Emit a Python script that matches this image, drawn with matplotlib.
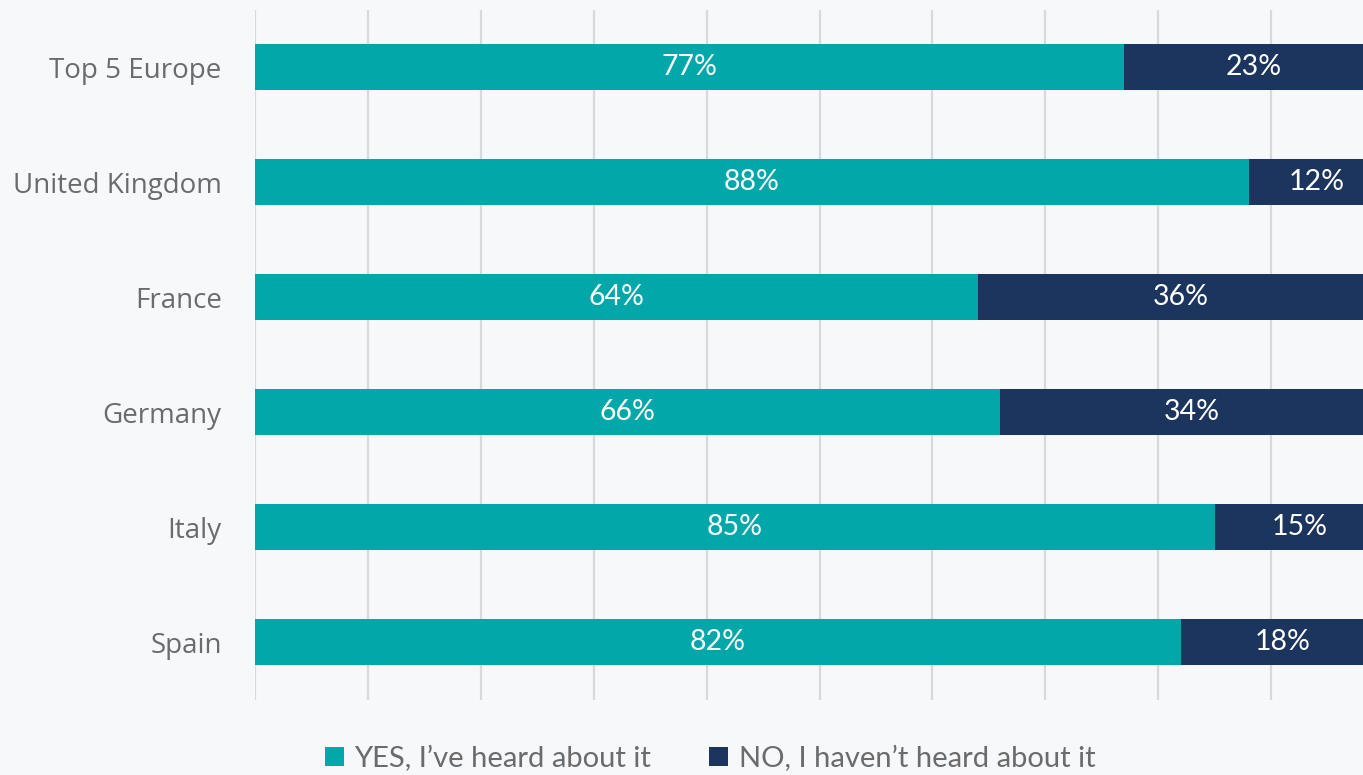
import matplotlib.pyplot as plt
from matplotlib.patches import Patch

# data
countries = ["Top 5 Europe", "United Kingdom", "France", "Germany", "Italy", "Spain"]
yes_pct = [77, 88, 64, 66, 85, 82]
no_pct = [23, 12, 36, 34, 15, 18]
series_names = ["YES, I\u2019ve heard about it", "NO, I haven\u2019t heard about it"]

TEAL = "#02A7AA"
NAVY = "#1C355E"
BG = "#F7F8FA"
GRID = "#D9D9D9"
TXT = "#6B6B6B"

fig = plt.figure(figsize=(13.63, 7.75), dpi=100, facecolor=BG)
# plot area runs past the right edge, as in the original
ax = fig.add_axes([0.1871, 0.0968, 0.8283, 0.8903], facecolor=BG)

y = list(range(len(countries)))
ax.barh(y, yes_pct, height=0.4, color=TEAL, zorder=3)
ax.barh(y, no_pct, left=yes_pct, height=0.4, color=NAVY, zorder=3)

for i in y:
    ax.text(yes_pct[i] / 2, i, f"{yes_pct[i]}%", ha="center", va="center",
            color="white", fontsize=20.5, family="Lato", zorder=4)
    ax.text(yes_pct[i] + no_pct[i] / 2, i, f"{no_pct[i]}%", ha="center", va="center",
            color="white", fontsize=20.5, family="Lato", zorder=4)

ax.set_xlim(0, 100)
ax.set_ylim(len(countries) - 0.5, -0.5)
ax.set_xticks(range(0, 101, 10))
ax.xaxis.grid(True, color=GRID, linewidth=1.6, zorder=0)
ax.tick_params(axis="x", length=0, labelbottom=False)
ax.tick_params(axis="y", length=0, pad=24)
ax.set_yticks(y)
ax.set_yticklabels(countries, fontsize=20, color=TXT, family="Open Sans")
for s in ax.spines.values():
    s.set_visible(False)

handles = [Patch(facecolor=TEAL), Patch(facecolor=NAVY)]
fig.legend(handles, series_names, loc="center", bbox_to_anchor=(0.521, 0.021),
           ncol=2, frameon=False, handlelength=0.65, handleheight=0.65,
           handletextpad=0.35, columnspacing=2.0,
           prop={"family": "Lato", "size": 21}, labelcolor=TXT)

fig.savefig("out.png", dpi=100, facecolor=BG)
